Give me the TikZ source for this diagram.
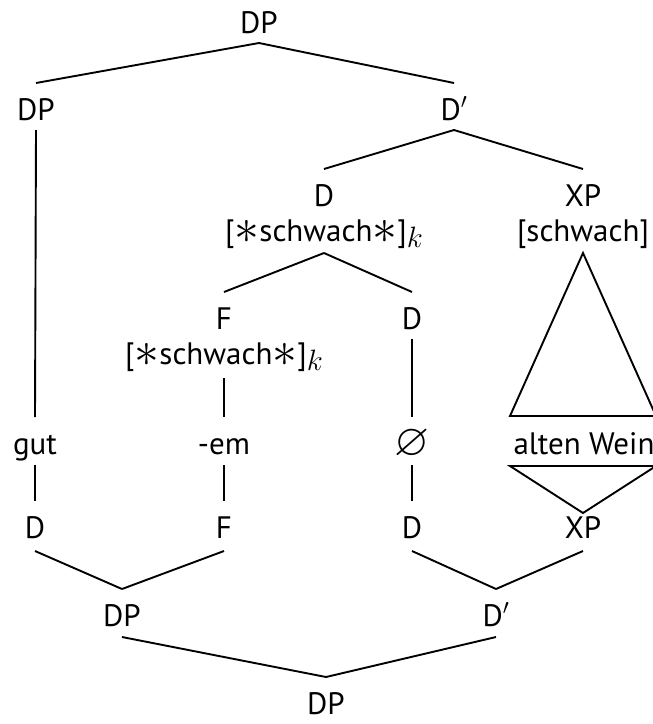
\RequirePackage{fix-cm}
\documentclass[tikz,border=0pt]{standalone}
\usepackage{graphicx}
\usepackage{amssymb}
\usepackage{fontspec}
\setmainfont{PT Sans}
\usetikzlibrary{calc}
\newcommand\tlink[3][10]{\draw[edge] ([yshift=-#1pt]#2.base) -- ([yshift=37pt]#3.base);}
\newcommand\starsym{\raisebox{-2pt}{\scalebox{1.6}{$\ast$}}}
\newcommand\subk{\raisebox{-6pt}{\scalebox{0.95}{$k$}}}
\begin{document}
\begin{tikzpicture}[x=1pt,y=-1pt,
  lbl/.style={anchor=base, inner sep=0pt, font=\fontsize{31}{36}\selectfont},
  edge/.style={line width=1.9pt, line join=miter}]
\useasboundingbox (0,0) rectangle (653,724);
% upper tree
\node[lbl] (dp0) at (259,33) {DP};
\node[lbl] (dpL) at (36,120) {DP};
\node[lbl] (dbar) at (454,120) {D$'$};
\node[lbl] (d1) at (324,206) {D};
\node[lbl] (d1f) at (324,241) {[\starsym schwach\starsym]\subk};
\node[lbl] (xp1) at (583,206) {XP};
\node[lbl] (xp1f) at (583,241) {[schwach]};
\node[lbl] (f1) at (224,329) {F};
\node[lbl] (f1f) at (224,364) {[\starsym schwach\starsym]\subk};
\node[lbl] (d2) at (412,329) {D};
% words
\node[lbl] (gut) at (35,454) {gut};
\node[lbl] (em) at (224,454) {-em};
\node[lbl] (null) at (412,454) {\raisebox{-1pt}{\scalebox{1.45}{$\varnothing$}}};
\node[lbl] (wein) at (584,454) {alten Wein};
% lower tree
\node[lbl] (dB) at (35,538) {D};
\node[lbl] (fB) at (224,538) {F};
\node[lbl] (d2B) at (412,538) {D};
\node[lbl] (xpB) at (583,538) {XP};
\node[lbl] (dpB) at (122,626) {DP};
\node[lbl] (dbarB) at (496,626) {D$'$};
\node[lbl] (dpR) at (326,714) {DP};
% upper edges
\tlink{dp0}{dpL}
\tlink{dp0}{dbar}
\tlink{dbar}{d1}
\tlink{dbar}{xp1}
\tlink[12]{d1f}{f1}
\tlink[12]{d1f}{d2}
\tlink{dpL}{gut}
\tlink[14]{f1f}{em}
\tlink{d2}{null}
% triangle
\draw[edge] ([yshift=-12pt]xp1f.base) -- ($(wein.base)+(-74,-38)$) -- ($(wein.base)+(72,-38)$) -- cycle;
% lower edges
\tlink[11]{gut}{dB}
\tlink[11]{em}{fB}
\tlink[11]{null}{d2B}
\draw[edge] ($(wein.base)+(-74,12)$) -- ($(wein.base)+(72,12)$) -- ([yshift=25pt]xpB.base) -- cycle;
\tlink[13]{dB}{dpB}
\tlink[13]{fB}{dpB}
\tlink[13]{d2B}{dbarB}
\tlink[13]{xpB}{dbarB}
\tlink[11]{dpB}{dpR}
\tlink[11]{dbarB}{dpR}
\end{tikzpicture}
\end{document}
